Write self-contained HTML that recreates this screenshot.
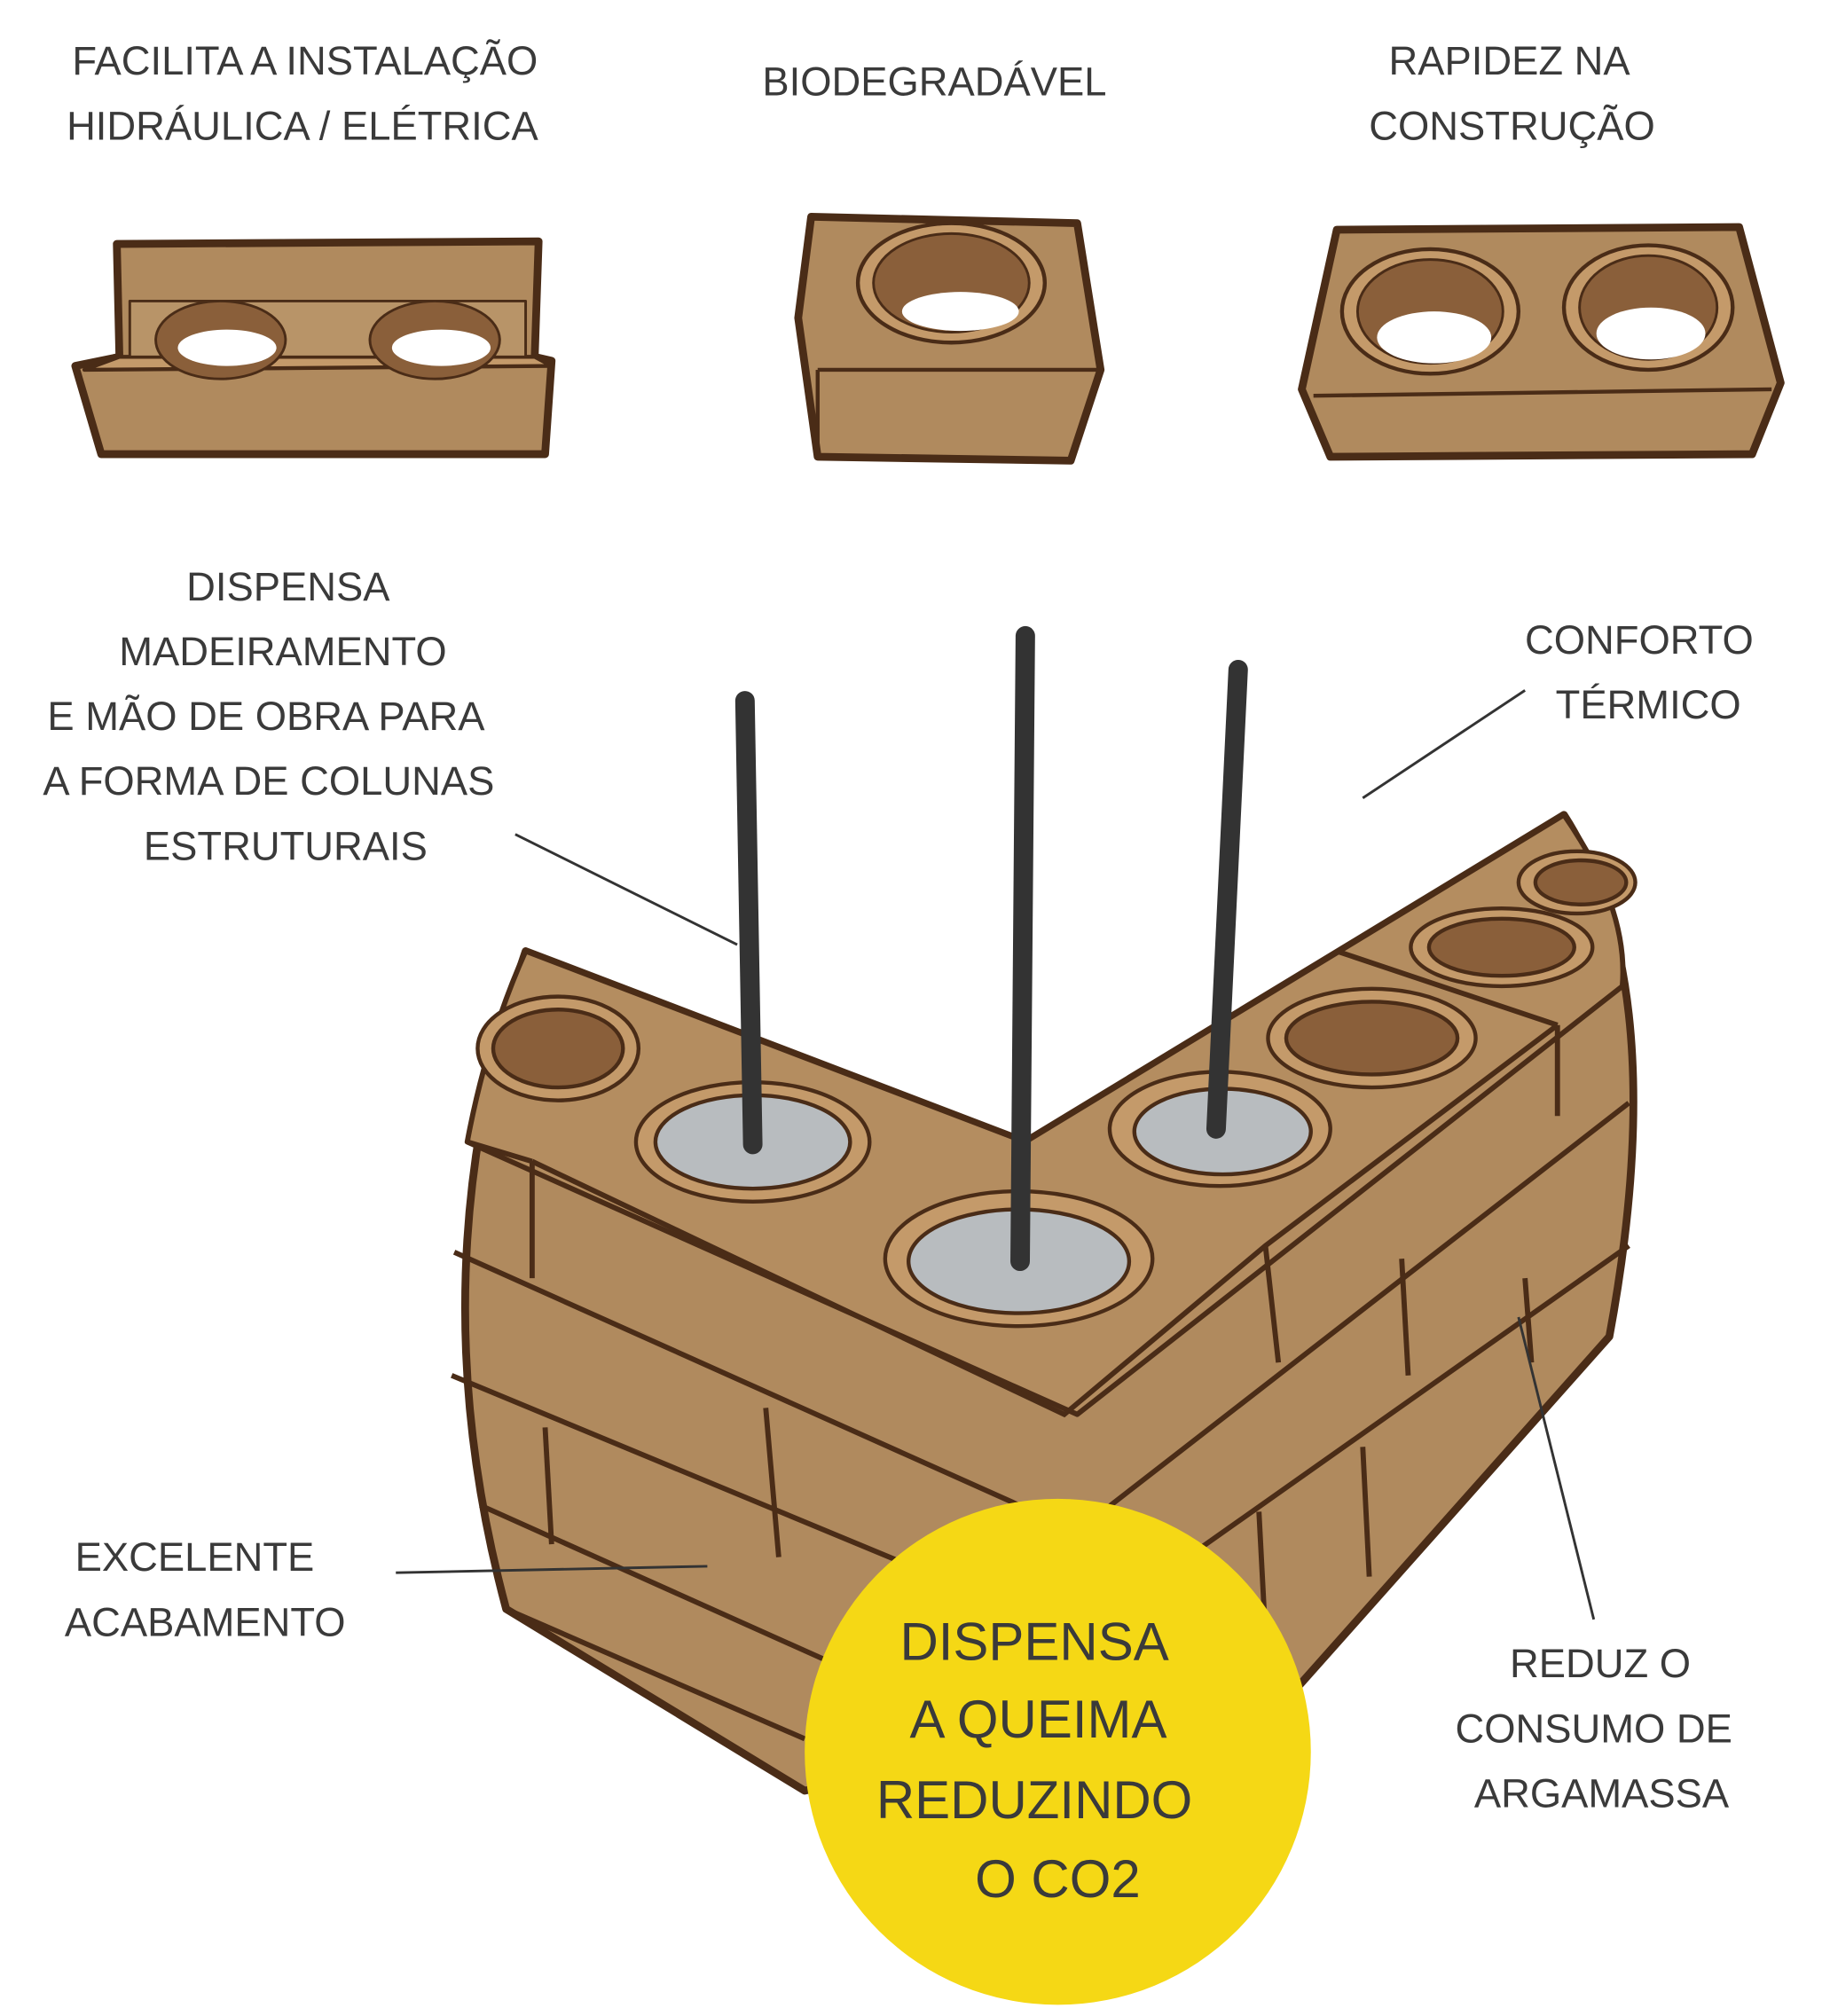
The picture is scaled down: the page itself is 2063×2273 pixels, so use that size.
<!DOCTYPE html>
<html><head><meta charset="utf-8"><style>
html,body{margin:0;padding:0;background:#fff;}
svg{display:block;}
text{font-family:"Liberation Sans",sans-serif;fill:#3a3a3a;font-size:31px;text-anchor:middle;dominant-baseline:central;}
</style></head><body>
<svg width="2063" height="2273" viewBox="0 0 1410 1553.6" preserveAspectRatio="none">
<g stroke="#4a2c17" stroke-width="6" stroke-linejoin="round">
<polygon points="58,282 92,275 90,188 415,186 412,275 425,278 420,350 78,350" fill="#b08a5e"/>
<polygon points="92,275 412,275 425,282 65,285" fill="#c49a6a" stroke-width="3"/>
<polygon points="100,232 405,232 405,275 100,275" fill="#b89468" stroke-width="2"/>
<ellipse cx="170" cy="262" rx="50" ry="30" fill="#8a5f3a" stroke-width="2"/>
<ellipse cx="175" cy="268" rx="38" ry="14" fill="#fff" stroke="none"/>
<ellipse cx="335" cy="262" rx="50" ry="30" fill="#8a5f3a" stroke-width="2"/>
<ellipse cx="340" cy="268" rx="38" ry="14" fill="#fff" stroke="none"/>
<polygon points="625,167 830,172 848,285 825,355 630,352 615,245" fill="#b08a5e"/>
<polyline points="630,285 848,285" fill="none" stroke-width="3"/>
<polyline points="630,285 630,352" fill="none" stroke-width="3"/>
<ellipse cx="733" cy="218" rx="72" ry="46" fill="#c49a6a" stroke-width="3"/>
<ellipse cx="733" cy="218" rx="60" ry="38" fill="#8a5f3a" stroke-width="2"/>
<ellipse cx="740" cy="240" rx="45" ry="15" fill="#fff" stroke="none"/>
<polygon points="1030,177 1340,175 1372,295 1350,350 1025,352 1003,300" fill="#b08a5e"/>
<polyline points="1012,305 1365,300" fill="none" stroke-width="3"/>
<ellipse cx="1102" cy="240" rx="68" ry="48" fill="#c49a6a" stroke-width="3"/>
<ellipse cx="1102" cy="240" rx="56" ry="40" fill="#8a5f3a" stroke-width="2"/>
<ellipse cx="1105" cy="260" rx="44" ry="20" fill="#fff" stroke="none"/>
<ellipse cx="1270" cy="237" rx="65" ry="48" fill="#c49a6a" stroke-width="3"/>
<ellipse cx="1270" cy="237" rx="53" ry="40" fill="#8a5f3a" stroke-width="2"/>
<ellipse cx="1272" cy="257" rx="42" ry="20" fill="#fff" stroke="none"/>
<path d="M405,733 L790,880 L1205,628 Q1290,760 1240,1030 L1000,1300 L620,1380 L390,1240 Q320,980 405,733 Z" fill="#b08a5e"/>
<path d="M405,733 L790,880 L1205,628 Q1255,700 1250,760 L830,1090 L360,880 Q375,800 405,733 Z" fill="#b48d60" stroke-width="4"/>
</g>
<g stroke="#4a2c17" stroke-width="4" fill="none">
<path d="M410,895 L820,1090 L975,960 L1200,790"/>
<path d="M410,895 L410,985"/>
<path d="M360,880 L410,895"/>
<path d="M350,965 L830,1180 L1255,850"/>
<path d="M348,1060 L830,1260 L1255,960"/>
<path d="M370,1160 L660,1290"/>
<path d="M390,1240 L620,1340"/>
<path d="M975,960 L985,1050"/>
<path d="M1200,790 L1200,860"/>
<path d="M590,1085 L600,1200"/>
<path d="M420,1100 L425,1190"/>
<path d="M1080,970 L1085,1060"/>
<path d="M1175,985 L1180,1050"/>
<path d="M970,1165 L975,1260"/>
<path d="M1050,1115 L1055,1215"/>
<path d="M1030,733 L1200,790"/>
</g>
<g stroke="#4a2c17" stroke-width="3">
<ellipse cx="430" cy="808" rx="62" ry="40" fill="#c49a6a"/><ellipse cx="430" cy="808" rx="50" ry="30" fill="#8a5f3a"/>
<ellipse cx="1057" cy="800" rx="80" ry="38" fill="#c49a6a"/><ellipse cx="1057" cy="800" rx="66" ry="28" fill="#8a5f3a"/>
<ellipse cx="1157" cy="730" rx="70" ry="30" fill="#c49a6a"/><ellipse cx="1157" cy="730" rx="56" ry="22" fill="#8a5f3a"/>
<ellipse cx="1215" cy="680" rx="45" ry="24" fill="#c49a6a"/><ellipse cx="1218" cy="680" rx="35" ry="17" fill="#8a5f3a"/>
<ellipse cx="580" cy="880" rx="90" ry="46" fill="#c49a6a"/><ellipse cx="580" cy="880" rx="75" ry="36" fill="#b8bcbf"/>
<ellipse cx="785" cy="970" rx="103" ry="52" fill="#c49a6a"/><ellipse cx="785" cy="972" rx="85" ry="40" fill="#b8bcbf"/>
<ellipse cx="940" cy="870" rx="85" ry="44" fill="#c49a6a"/><ellipse cx="942" cy="872" rx="68" ry="33" fill="#b8bcbf"/>
</g>
<g stroke="#333" stroke-width="15" stroke-linecap="round">
<line x1="574" y1="540" x2="580" y2="882"/>
<line x1="790" y1="490" x2="786" y2="972"/>
<line x1="954" y1="516" x2="937" y2="870"/>
</g>
<g stroke="#333" stroke-width="2">
<line x1="397" y1="643" x2="568" y2="728"/>
<line x1="1175" y1="532" x2="1050" y2="615"/>
<line x1="305" y1="1212" x2="545" y2="1207"/>
<line x1="1170" y1="1015" x2="1228" y2="1248"/>
</g>
<circle cx="815" cy="1350" r="195" fill="#f5d815"/>
<text x="235" y="47">FACILITA A INSTALAÇÃO</text>
<text x="233" y="97">HIDRÁULICA / ELÉTRICA</text>
<text x="720" y="63">BIODEGRADÁVEL</text>
<text x="1163" y="47">RAPIDEZ NA</text>
<text x="1165" y="97">CONSTRUÇÃO</text>
<text x="222" y="452">DISPENSA</text>
<text x="218" y="502">MADEIRAMENTO</text>
<text x="205" y="552">E MÃO DE OBRA PARA</text>
<text x="207" y="602">A FORMA DE COLUNAS</text>
<text x="220" y="652">ESTRUTURAIS</text>
<text x="1263" y="493">CONFORTO</text>
<text x="1270" y="543">TÉRMICO</text>
<text x="150" y="1200">EXCELENTE</text>
<text x="158" y="1250">ACABAMENTO</text>
<text x="1233" y="1282">REDUZ O</text>
<text x="1228" y="1332">CONSUMO DE</text>
<text x="1234" y="1382">ARGAMASSA</text>
<text x="797" y="1265" style="font-size:41px">DISPENSA</text>
<text x="800" y="1325" style="font-size:41px">A QUEIMA</text>
<text x="797" y="1387" style="font-size:41px">REDUZINDO</text>
<text x="815" y="1448" style="font-size:41px">O CO2</text>
</svg>
</body></html>
